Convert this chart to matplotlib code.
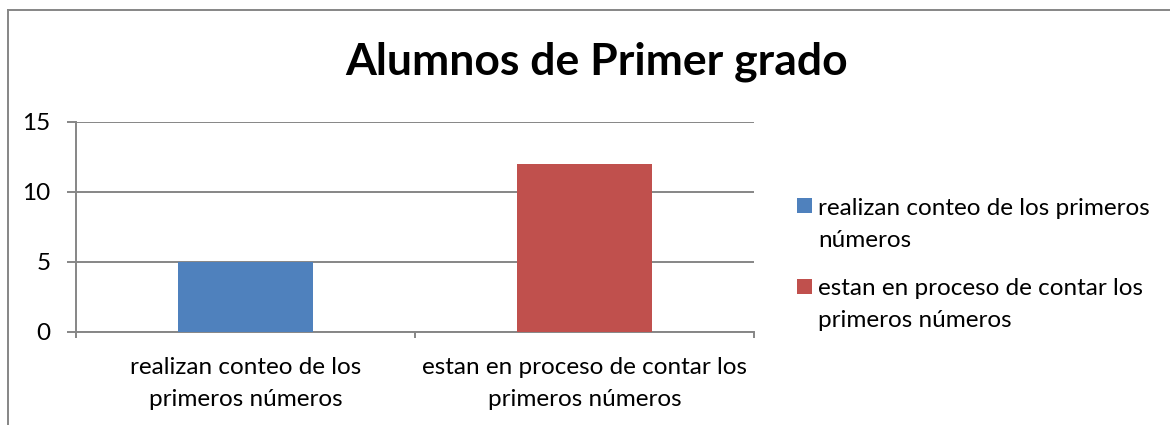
import matplotlib
matplotlib.use("Agg")
import matplotlib.pyplot as plt
from matplotlib.patches import Rectangle
from matplotlib.lines import Line2D

title = "Alumnos de Primer grado"
categories = ["realizan conteo de los\nprimeros números",
              "estan en proceso de contar los\nprimeros números"]
legend_labels = ["realizan conteo de los primeros\nnúmeros",
                 "estan en proceso de contar los\nprimeros números"]
values = [5, 12]
colors = ["#4F81BD", "#C0504D"]
yticks = [0, 5, 10, 15]

plt.rcParams['font.family'] = ['Lato', 'DejaVu Sans']

W, H = 1170, 425
fig = plt.figure(figsize=(W / 100, H / 100), dpi=100)

def fx(px):
    return px / W

def fy(py):
    return 1 - py / H

FS = 17.5
LS = 1.63
GRID = "#868686"

ax = fig.add_axes([fx(76), fy(332), fx(754) - fx(76), fy(122) - fy(332)])
x = list(range(len(categories)))
ax.bar(x, values, width=0.4, color=colors, zorder=3)
ax.set_xlim(-0.5, len(categories) - 0.5)
ax.set_ylim(0, 15)
ax.set_yticks(yticks)
ax.set_yticklabels([str(t) for t in yticks], fontsize=FS, color="#000000")
ax.yaxis.grid(True, color=GRID, linewidth=1.4, zorder=0)
ax.set_axisbelow(True)

for s in ["top", "right"]:
    ax.spines[s].set_visible(False)
for s in ["left", "bottom"]:
    ax.spines[s].set_color(GRID)
    ax.spines[s].set_linewidth(1.4)

ax.tick_params(axis="y", length=6.5, width=1.4, color=GRID, pad=12)
# category boundary ticks (major) and labels (minor)
ax.set_xticks([i - 0.5 for i in range(len(categories) + 1)])
ax.set_xticklabels([])
ax.set_xticks(x, minor=True)
ax.set_xticklabels(categories, minor=True, fontsize=FS, linespacing=LS)
ax.tick_params(axis="x", which="major", length=4.5, width=1.4, color=GRID)
ax.tick_params(axis="x", which="minor", length=0, pad=18)

fig.text(fx(597), fy(75), title, ha="center", va="baseline",
         fontsize=32, fontweight="bold")

# legend drawn manually (squares aligned to first line, text baseline = last line)
square_bottoms = [213, 294]
last_baselines = [247, 327]
for lab, col, sb, lb in zip(legend_labels, colors, square_bottoms, last_baselines):
    fig.patches.append(Rectangle((fx(797), fy(sb)), fx(15), fy(0) - fy(15),
                                 transform=fig.transFigure, facecolor=col,
                                 edgecolor="none"))
    fig.text(fx(818), fy(lb), lab, ha="left", va="baseline",
             fontsize=FS, linespacing=LS)

# outer chart border
fig.lines.append(Line2D([fx(7.5), fx(7.5)], [fy(9.5), 0], transform=fig.transFigure,
                        color=GRID, linewidth=1.4))
fig.lines.append(Line2D([fx(7.5), 1], [fy(9.5), fy(9.5)], transform=fig.transFigure,
                        color=GRID, linewidth=1.4))

fig.savefig("out.png", dpi=100, facecolor="white")
